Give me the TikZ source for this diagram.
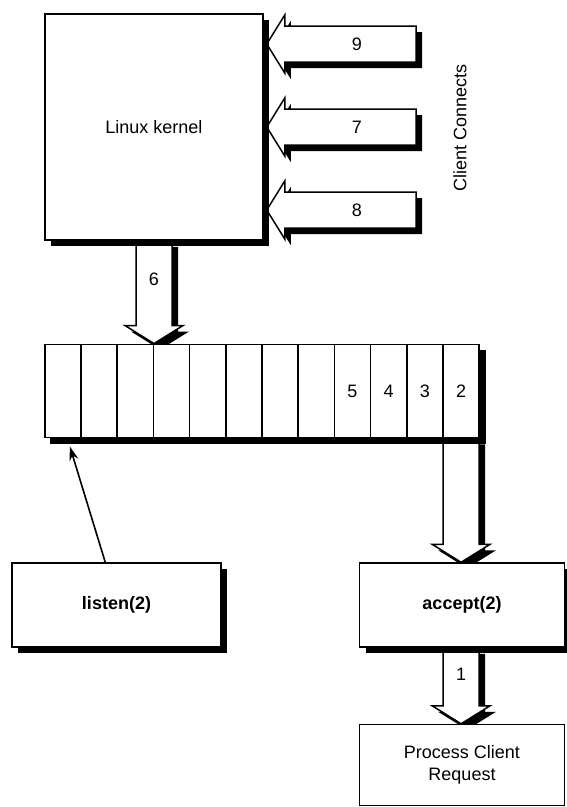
\documentclass[tikz,border=0pt]{standalone}
\usepackage{fontspec}
\setmainfont{Liberation Sans}
\usetikzlibrary{calc,matrix,positioning,shadows,backgrounds,arrows.meta}
\newcommand\fatarrow[3]{%
  \coordinate (fa) at ($(#2)!18pt!(#1)$);
  \filldraw[fat] ($(#1)!18pt!90:(#2)$) -- ($(fa)!18pt!90:(#2)$) -- ($(fa)!29pt!90:(#2)$) -- (#2)
    -- ($(fa)!29pt!-90:(#2)$) -- ($(fa)!18pt!-90:(#2)$) -- ($(#1)!18pt!-90:(#2)$) -- cycle;
  \node[lbl] at ($(#1)!0.45!(fa)$) {#3};}
\begin{document}
\begin{tikzpicture}[x=1pt,y=-1pt,
    shd/.style={drop shadow={shadow xshift=6pt,shadow yshift=-6pt,opacity=1,fill=black}},
    box/.style={draw,fill=white,line width=1.5pt,shd,font=\fontsize{18}{22}\selectfont},
    fat/.style={draw,fill=white,line width=1.5pt,line join=miter,shd},
    lbl/.style={font=\fontsize{18}{22}\selectfont,inner sep=0pt}]
 \useasboundingbox (0,0) rectangle (566,807);
 \node[box,minimum width=218pt,minimum height=226pt] (kernel) at (154,127) {Linux kernel};
 \node[rotate=90,lbl] (cc) at (460,128) {Client Connects};
 \matrix[matrix of nodes,nodes in empty cells,shd,fill=white,inner sep=0pt,
    column sep=-1.5pt,
    nodes={draw,fill=white,line width=1.5pt,minimum width=36.2pt,minimum height=93pt,
      anchor=center,font=\fontsize{18}{22}\selectfont}] (queue) at (262,391)
  { & & & & & & & & 5 & 4 & 3 & 2\\};
 \node[box,font=\fontsize{18}{22}\selectfont\bfseries,minimum width=209pt,minimum height=84pt] (listen) at (116.5,605) {listen(2)};
 \node[box,font=\fontsize{18}{22}\selectfont\bfseries,minimum width=205pt,minimum height=84pt,right=137pt of listen] (accept) {accept(2)};
 \node[draw,fill=white,line width=1.5pt,lbl,align=center,minimum width=205pt,minimum height=81pt,below=76pt of accept] (proc) {Process Client\\Request};
 \draw[-{Stealth[length=14pt,width=9pt]},line width=1.6pt] ([xshift=94pt]listen.north west) -- ([xshift=26pt,yshift=-8pt]queue.south west);
 \begin{scope}[on background layer]
  \foreach \n/\y in {9/44,7/127,8/210} {
   \coordinate (c\n) at (416,\y);
   \coordinate (t\n) at ([xshift=3pt]c\n -| kernel.east);
   \fatarrow{c\n}{t\n}{\n}
  }
  \coordinate (t6) at (kernel.south |- queue.north);
  \fatarrow{kernel.south}{t6}{6}
  \coordinate (tq) at (queue-1-12.south |- accept.north);
  \fatarrow{queue-1-12.south}{tq}{}
  \coordinate (s1) at (queue-1-12.south |- accept.south);
  \coordinate (t1) at (queue-1-12.south |- proc.north);
  \fatarrow{s1}{t1}{1}
 \end{scope}
\end{tikzpicture}
\end{document}
